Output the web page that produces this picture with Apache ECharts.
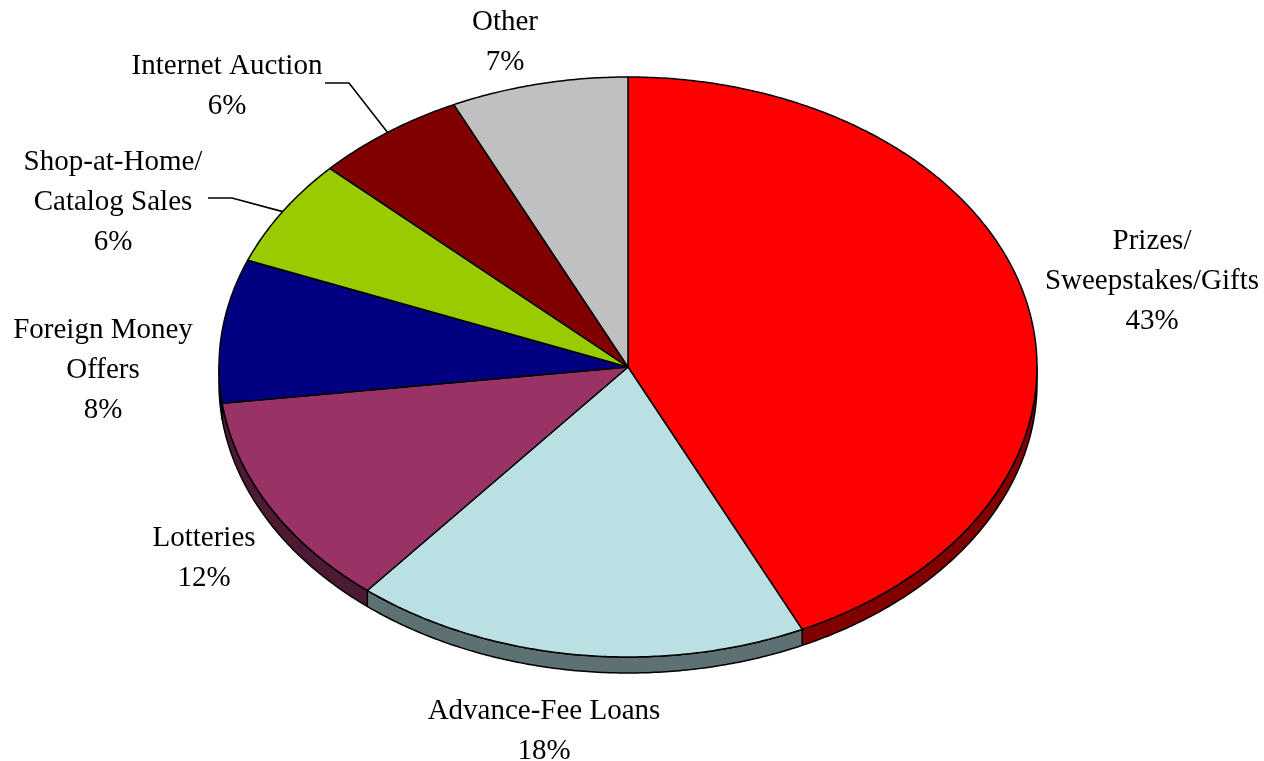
<!DOCTYPE html>
<html>
<head>
<meta charset="utf-8">
<script src="https://cdn.jsdelivr.net/npm/echarts@6.0.0/dist/echarts.min.js"></script>
<style>
  html, body { margin: 0; padding: 0; background: #fff; }
  #chart { width: 1264px; height: 761px; }
</style>
</head>
<body>
<div id="chart"></div>
<script>
// Fraud categories and their share of complaints (percent)
const categories = [
  'Prizes/\nSweepstakes/Gifts',
  'Advance-Fee Loans',
  'Lotteries',
  'Foreign Money\nOffers',
  'Shop-at-Home/\nCatalog Sales',
  'Internet Auction',
  'Other'
];
const shares = [43, 18, 12, 8, 6, 6, 7];

// Slice face colours and the darker shade used for the rim
const topColors  = ['#FF0000', '#BBE0E3', '#993366', '#000080', '#99CC00', '#800000', '#C0C0C0'];
const sideColors = ['#800000', '#5E7172', '#4D1A33', '#000040', '#4D6600', '#400000', '#606060'];

// Label block centres; some labels get an elbow leader line
const labelLayout = [
  { x: 1152, y: 281 },
  { x: 544,  y: 731 },
  { x: 204,  y: 558 },
  { x: 103,  y: 370 },
  { x: 113,  y: 202, leader: { x0: 208, x1: 232, y: 198 } },
  { x: 227,  y: 86,  leader: { x0: 325, x1: 349, y: 83 } },
  { x: 505,  y: 42 }
];

// Tilted pie geometry (ellipse with a visible rim)
const cx = 628, cy = 367, rx = 409, ry = 290, depth = 16;

const total = shares.reduce((a, b) => a + b, 0);
const starts = [];
shares.reduce((acc, v) => { starts.push(acc); return acc + v; }, 0);

function angleOf(frac) { return -Math.PI / 2 + frac * 2 * Math.PI; }
function pt(t, dy) { return [cx + rx * Math.cos(t), cy + ry * Math.sin(t) + (dy || 0)]; }
function arc(t0, t1, dy) {
  const n = Math.max(2, Math.ceil((t1 - t0) / (Math.PI / 360)));
  const pts = [];
  for (let i = 0; i <= n; i++) pts.push(pt(t0 + (t1 - t0) * i / n, dy));
  return pts;
}

const FONT = '"Liberation Serif", "Times New Roman", serif';

function renderItem(params, api) {
  const i = params.dataIndex;
  const v = api.value(0);
  const t0 = angleOf(starts[i] / total);
  const t1 = angleOf((starts[i] + v) / total);
  const children = [];

  // Front rim (visible for angles between 0 and PI)
  const s0 = Math.max(t0, 0), s1 = Math.min(t1, Math.PI);
  if (s1 > s0) {
    const top = arc(s0, s1, 0);
    const bot = arc(s0, s1, depth).reverse();
    children.push({
      type: 'polygon',
      shape: { points: top.concat(bot) },
      style: { fill: sideColors[i], stroke: '#000', lineWidth: 1.5, lineJoin: 'round' }
    });
  }

  // Top face of the slice
  children.push({
    type: 'polygon',
    shape: { points: [[cx, cy]].concat(arc(t0, t1, 0)) },
    style: { fill: topColors[i], stroke: '#000', lineWidth: 1.5, lineJoin: 'round' }
  });

  // Label: category name plus percentage
  const lay = labelLayout[i];
  children.push({
    type: 'text',
    x: lay.x,
    y: lay.y,
    style: {
      text: categories[i] + '\n' + v + '%',
      fill: '#000',
      fontSize: 29,
      fontFamily: FONT,
      lineHeight: 40,
      align: 'center',
      verticalAlign: 'middle',
      textAlign: 'center',
      textVerticalAlign: 'middle'
    }
  });

  if (lay.leader) {
    const tip = pt((t0 + t1) / 2, 0);
    children.push({
      type: 'polyline',
      shape: { points: [[lay.leader.x0, lay.leader.y], [lay.leader.x1, lay.leader.y], tip] },
      style: { stroke: '#000', lineWidth: 1.6, fill: null }
    });
  }

  return { type: 'group', children };
}

const chart = echarts.init(document.getElementById('chart'), null, { renderer: 'canvas' });
chart.setOption({
  backgroundColor: '#ffffff',
  animation: false,
  series: [{
    type: 'custom',
    coordinateSystem: 'none',
    renderItem: renderItem,
    data: shares.map((v, i) => ({ name: categories[i], value: [v] }))
  }]
});
</script>
</body>
</html>
